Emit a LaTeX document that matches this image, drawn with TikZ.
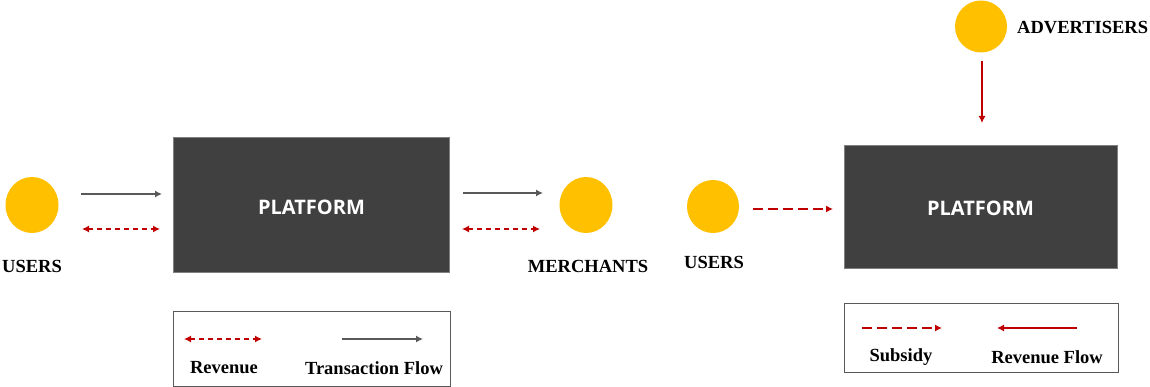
\documentclass[tikz,border=0pt]{standalone}
\usepackage{fontspec}
\setmainfont{Liberation Serif}
\newfontfamily\boxfont{Open Sans}
\usetikzlibrary{arrows.meta,shapes.geometric}
\definecolor{sun}{HTML}{FFC000}
\definecolor{slab}{HTML}{404040}
\definecolor{flowgray}{HTML}{595959}
\definecolor{revred}{HTML}{C00000}
\tikzset{
  party/.style={ellipse, fill=sun, minimum width=53pt, minimum height=56pt, inner sep=0pt},
  platform/.style={rectangle, fill=slab, draw=gray, line width=0.8pt, inner sep=0pt,
    font=\boxfont\bfseries\fontsize{20}{22}\selectfont, text=white},
  lbl/.style={font=\bfseries\fontsize{18.5}{20}\selectfont, inner sep=0pt},
  legendbox/.style={rectangle, draw=flowgray, line width=1pt, inner sep=0pt},
  txflow/.style={draw=flowgray, line width=1.2pt, -{Latex[length=7pt,width=7pt]}},
  revflow/.style={draw=revred, line width=1.2pt, dash pattern=on 5pt off 4pt,
    {Latex[length=7pt,width=7pt]}-{Latex[length=7pt,width=7pt]}},
  subsidy/.style={draw=revred, line width=1.2pt, dash pattern=on 10pt off 5pt, -{Latex[length=7pt,width=7pt]}},
  adflow/.style={draw=revred, line width=1.2pt, -{Latex[length=7pt,width=7pt]}}
}
\begin{document}
\begin{tikzpicture}[x=1pt,y=-1pt]
\useasboundingbox (0,0) rectangle (1150,387);

% ---- two-sided transaction platform ----
\node[party] (u1) at (32,205) {};
\node[lbl] (u1l) at (32,266) {USERS};
\node[platform, minimum width=276pt, minimum height=135pt] (p1) at (311,205) {};
\node[text=white, font=\boxfont\bfseries\fontsize{20}{22}\selectfont] (p1t) at (311.5,207.5) {PLATFORM};
\node[party] (m) at (586,205) {};
\node[lbl] (ml) at (588,266) {MERCHANTS};

\coordinate (a1s) at (81,194);  \coordinate (a1e) at (162,194);
\coordinate (r1s) at (82,229);  \coordinate (r1e) at (160,229);
\coordinate (a2s) at (463,193); \coordinate (a2e) at (543,193);
\coordinate (r2s) at (462,229); \coordinate (r2e) at (540,229);
\draw[txflow] (a1s) -- (a1e);
\draw[revflow] (r1s) -- (r1e);
\draw[txflow] (a2s) -- (a2e);
\draw[revflow] (r2s) -- (r2e);

% legend
\node[legendbox, minimum width=277pt, minimum height=75pt] (leg1) at (311.5,348.5) {};
\coordinate (lr1s) at (184,339); \coordinate (lr1e) at (262,339);
\coordinate (lt1s) at (342,339); \coordinate (lt1e) at (423,339);
\draw[revflow] (lr1s) -- (lr1e);
\draw[txflow] (lt1s) -- (lt1e);
\node[lbl] (lrev) at (224,368) {Revenue};
\node[lbl] (ltx) at (374,368) {Transaction Flow};

% ---- ad-subsidised platform ----
\node[party, minimum width=52pt, minimum height=53pt] (u2) at (713,206.5) {};
\node[lbl] (u2l) at (714,262) {USERS};
\node[platform, minimum width=273pt, minimum height=123pt] (p2) at (980.5,206.5) {};
\node[text=white, font=\boxfont\bfseries\fontsize{20}{22}\selectfont] (p2t) at (980.5,208.5) {PLATFORM};
\node[party, minimum width=52pt, minimum height=52pt] (ad) at (981,26.5) {};
\node[lbl, anchor=west] (adl) at (1017,28) {ADVERTISERS};

\coordinate (ss) at (753,209); \coordinate (se) at (833,209);
\draw[subsidy] (ss) -- (se);
\coordinate (ds) at (982,61); \coordinate (de) at (982,123);
\draw[adflow] (ds) -- (de);

% legend
\node[legendbox, minimum width=274pt, minimum height=69pt] (leg2) at (981,337.5) {};
\coordinate (lss) at (862,328);  \coordinate (lse) at (942,328);
\coordinate (lfs) at (1077,328); \coordinate (lfe) at (997,328);
\draw[subsidy] (lss) -- (lse);
\draw[adflow] (lfs) -- (lfe);
\node[lbl] (lsub) at (901,357) {Subsidy};
\node[lbl] (lrf) at (1047,357) {Revenue Flow};
\end{tikzpicture}
\end{document}
